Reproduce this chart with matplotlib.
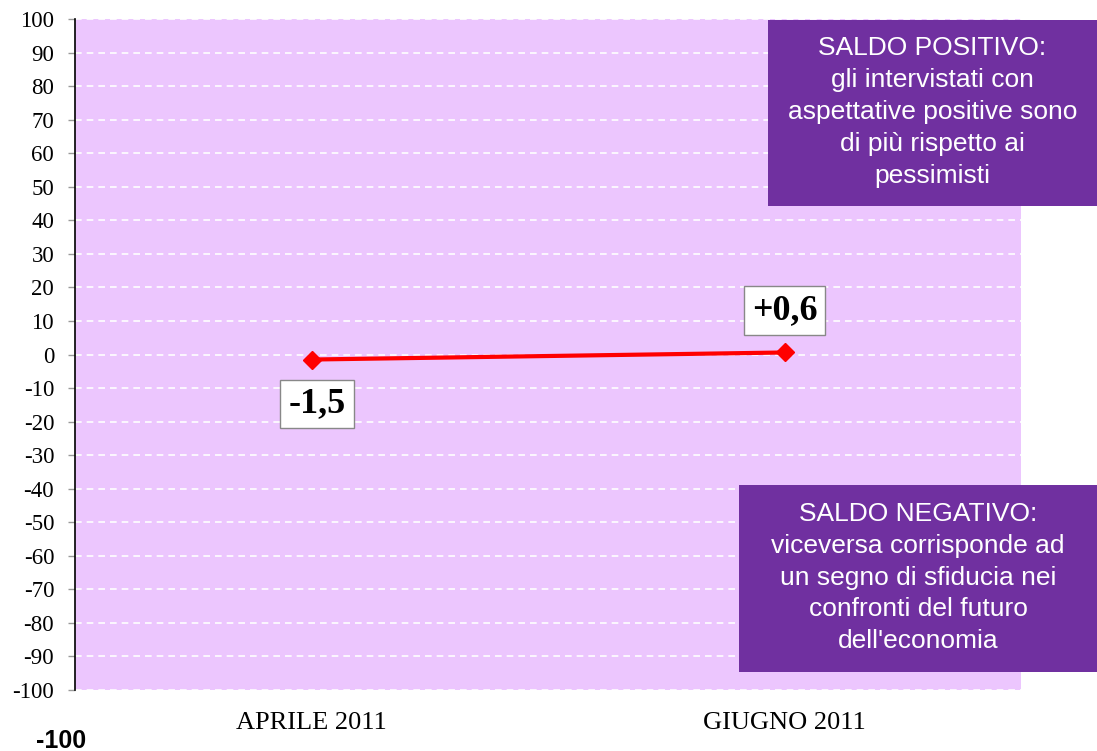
import matplotlib.pyplot as plt
from matplotlib.patches import Rectangle

# Data
categories = ["APRILE 2011", "GIUGNO 2011"]
saldo = [-1.5, 0.6]
saldo_labels = ["-1,5", "+0,6"]
y_ticks = list(range(-100, 101, 10))

pink = "#ECC6FE"
purple = "#7030A0"

fig = plt.figure(figsize=(10.97, 7.51), dpi=100)
ax = fig.add_axes([75 / 1097, 1 - 690 / 751, 946 / 1097, 671 / 751])
ax.set_facecolor(pink)

x = list(range(len(categories)))
ax.plot(x, saldo, color="red", lw=3, marker="D", ms=9, zorder=3)

# data labels
offsets = [(4, -32), (0, 30)]
for xi, yi, lab, off in zip(x, saldo, saldo_labels, offsets):
    ax.annotate(lab, (xi, yi), xytext=off, textcoords="offset points",
                ha="center", va="center", fontsize=26, fontweight="bold",
                family="Liberation Serif",
                bbox=dict(boxstyle="square,pad=0.22", fc="white", ec="#888888", lw=1))

ax.set_xlim(-0.5, 1.5)
ax.set_ylim(-100, 100)
ax.set_yticks(y_ticks)
ax.set_yticklabels([str(v) for v in y_ticks], family="Liberation Serif", fontsize=16.5)
ax.set_xticks(x)
ax.set_xticklabels(categories, family="Liberation Serif", fontsize=19)
ax.tick_params(axis="x", length=0, pad=16)
ax.tick_params(axis="y", length=5, color="#999999", width=1, pad=10)

for v in y_ticks:
    ax.axhline(v, color="white", lw=1.2, ls=(0, (4, 3)), zorder=1)

for s in ["top", "right", "bottom"]:
    ax.spines[s].set_visible(False)
ax.spines["left"].set_color("black")
ax.spines["left"].set_linewidth(1.2)

# explanation boxes
boxes = [
    (768, 20, 206, "SALDO POSITIVO:\ngli intervistati con\naspettative positive sono\ndi più rispetto ai\npessimisti"),
    (739, 485, 672, "SALDO NEGATIVO:\nviceversa corrisponde ad\nun segno di sfiducia nei\nconfronti del futuro\ndell'economia"),
]
for x0, top, bottom, txt in boxes:
    fig.add_artist(Rectangle((x0 / 1097, 1 - bottom / 751), (1097 - x0) / 1097,
                             (bottom - top) / 751, transform=fig.transFigure,
                             fc=purple, ec="none", zorder=5))
    fig.text((x0 + 1097) / 2 / 1097, 1 - (top + bottom - 2) / 2 / 751, txt,
             ha="center", va="center", color="white", fontsize=19,
             family="Liberation Sans", linespacing=1.42, zorder=6)

fig.text(61 / 1097, 1 - 741 / 751, "-100", ha="center", va="center",
         fontsize=18, fontweight="bold", family="Liberation Sans")

fig.savefig("out.png", dpi=100)
